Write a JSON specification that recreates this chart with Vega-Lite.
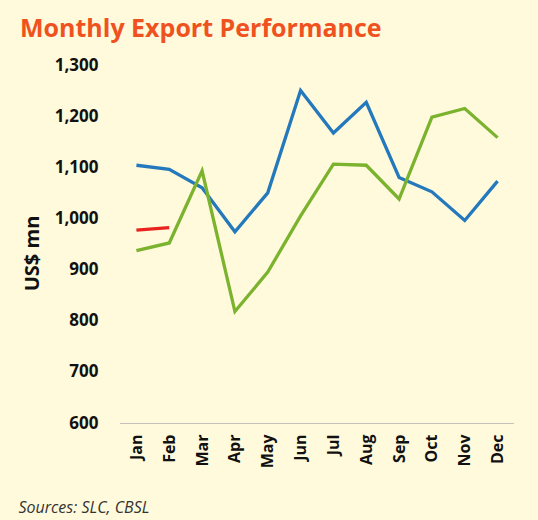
{
  "$schema": "https://vega.github.io/schema/vega-lite/v6.json",
  "autosize": {"type": "none"},
  "width": 394,
  "height": 358,
  "padding": {"left": 120, "top": 65, "right": 24, "bottom": 97},
  "background": "#fffadc",
  "title": {
    "text": "Monthly Export Performance",
    "anchor": "start",
    "frame": "group",
    "dx": -100,
    "offset": 14,
    "font": "Open Sans",
    "fontSize": 25,
    "fontWeight": "bold",
    "color": "#f0521f"
  },
  "data": {
    "values": [
      {"month": "Jan", "series": "A", "value": 1104},
      {"month": "Feb", "series": "A", "value": 1096},
      {"month": "Mar", "series": "A", "value": 1060},
      {"month": "Apr", "series": "A", "value": 974},
      {"month": "May", "series": "A", "value": 1050},
      {"month": "Jun", "series": "A", "value": 1250},
      {"month": "Jul", "series": "A", "value": 1167},
      {"month": "Aug", "series": "A", "value": 1227},
      {"month": "Sep", "series": "A", "value": 1080},
      {"month": "Oct", "series": "A", "value": 1052},
      {"month": "Nov", "series": "A", "value": 996},
      {"month": "Dec", "series": "A", "value": 1073},
      {"month": "Jan", "series": "B", "value": 937},
      {"month": "Feb", "series": "B", "value": 952},
      {"month": "Mar", "series": "B", "value": 1093},
      {"month": "Apr", "series": "B", "value": 818},
      {"month": "May", "series": "B", "value": 895},
      {"month": "Jun", "series": "B", "value": 1005},
      {"month": "Jul", "series": "B", "value": 1106},
      {"month": "Aug", "series": "B", "value": 1104},
      {"month": "Sep", "series": "B", "value": 1038},
      {"month": "Oct", "series": "B", "value": 1198},
      {"month": "Nov", "series": "B", "value": 1215},
      {"month": "Dec", "series": "B", "value": 1158},
      {"month": "Jan", "series": "C", "value": 977},
      {"month": "Feb", "series": "C", "value": 982}
    ]
  },
  "mark": {"type": "line", "strokeWidth": 3.3, "strokeJoin": "miter"},
  "encoding": {
    "x": {
      "field": "month",
      "type": "ordinal",
      "sort": ["Jan","Feb","Mar","Apr","May","Jun","Jul","Aug","Sep","Oct","Nov","Dec"],
      "scale": {"type": "point", "padding": 0.5},
      "axis": {
        "title": "Sources: SLC, CBSL",
        "titleAnchor": "start",
        "titleAlign": "left",
        "titleX": -102,
        "titleY": 76,
        "titleFont": "Open Sans",
        "titleFontStyle": "italic",
        "titleFontWeight": "normal",
        "titleFontSize": 16,
        "titleColor": "#333333",
        "labelAngle": -90,
        "labelFont": "Open Sans",
        "labelFontWeight": "bold",
        "labelFontSize": 16,
        "labelColor": "#111111",
        "labelPadding": 11,
        "ticks": false,
        "domainColor": "#8a8aa0",
        "domainDash": [1, 1],
        "domainWidth": 1,
        "grid": false
      }
    },
    "y": {
      "field": "value",
      "type": "quantitative",
      "scale": {"domain": [600, 1300], "nice": false, "zero": false},
      "axis": {
        "title": "US$ mn",
        "titleFont": "Open Sans",
        "titleFontWeight": "bold",
        "titleFontSize": 20,
        "titleColor": "#111111",
        "titlePadding": 12,
        "titleY": 188,
        "values": [600, 700, 800, 900, 1000, 1100, 1200, 1300],
        "format": ",d",
        "labelFont": "Open Sans",
        "labelFontWeight": "bold",
        "labelFontSize": 17,
        "labelColor": "#111111",
        "labelPadding": 22,
        "ticks": false,
        "domain": false,
        "grid": false
      }
    },
    "color": {
      "field": "series",
      "type": "nominal",
      "scale": {"domain": ["A", "B", "C"], "range": ["#2479bd", "#7bb22e", "#e8231f"]},
      "legend": null
    }
  },
  "config": {"view": {"stroke": null}}
}
